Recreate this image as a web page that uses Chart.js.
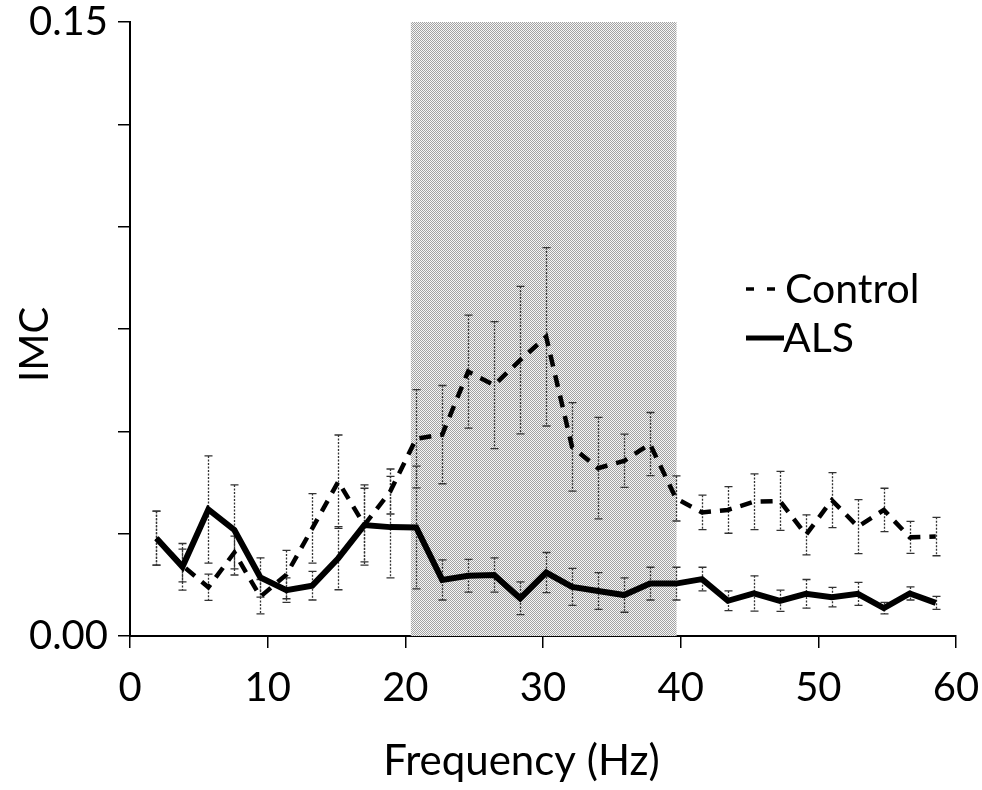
<!DOCTYPE html>
<html><head><meta charset="utf-8">
<script src="https://cdn.jsdelivr.net/npm/chart.js@4"></script>
<style>html,body{margin:0;padding:0;background:#fff}#wrap{width:982px;height:790px}</style>
</head><body><div id="wrap"><canvas id="c" width="982" height="790"></canvas></div>
<script>
const freqs = [1.92, 3.81, 5.69, 7.58, 9.47, 11.36, 13.24, 15.13, 17.02, 18.9, 20.79, 22.68, 24.56, 26.45, 28.34, 30.23, 32.11, 34.0, 35.89, 37.77, 39.66, 41.55, 43.43, 45.32, 47.21, 49.1, 50.98, 52.87, 54.76, 56.64, 58.53];
const controlIMC = [0.0239, 0.0172, 0.0119, 0.0204, 0.0096, 0.0150, 0.0263, 0.0377, 0.0271, 0.0353, 0.0482, 0.0492, 0.0646, 0.0613, 0.0674, 0.0731, 0.0462, 0.0410, 0.0428, 0.0469, 0.0336, 0.0302, 0.0308, 0.0328, 0.0330, 0.0247, 0.0332, 0.0267, 0.0308, 0.0241, 0.0243];
const controlErr = [0.0066, 0.0040, 0.0032, 0.0040, 0.0042, 0.0059, 0.0085, 0.0114, 0.0098, 0.0055, 0.0120, 0.0120, 0.0138, 0.0155, 0.0180, 0.0218, 0.0108, 0.0124, 0.0065, 0.0077, 0.0055, 0.0042, 0.0057, 0.0068, 0.0072, 0.0049, 0.0067, 0.0066, 0.0053, 0.0039, 0.0047];
const alsIMC = [0.0239, 0.0169, 0.0309, 0.0259, 0.0143, 0.0112, 0.0123, 0.0190, 0.0271, 0.0266, 0.0265, 0.0137, 0.0147, 0.0149, 0.0092, 0.0155, 0.0120, 0.0110, 0.0100, 0.0128, 0.0128, 0.0139, 0.0086, 0.0104, 0.0086, 0.0103, 0.0095, 0.0103, 0.0068, 0.0104, 0.0081];
const alsErr = [0.0066, 0.0057, 0.0131, 0.0110, 0.0048, 0.0030, 0.0035, 0.0077, 0.0090, 0.0124, 0.0150, 0.0049, 0.0040, 0.0042, 0.0040, 0.0049, 0.0045, 0.0045, 0.0042, 0.0040, 0.0040, 0.0029, 0.0024, 0.0043, 0.0026, 0.0035, 0.0024, 0.0028, 0.0014, 0.0016, 0.0016];
const xTicks = [0, 10, 20, 30, 40, 50, 60];
const yLabelled = [0, 0.15];
const yTickText = ['0.00', '0.15'];
const shadeBand = [20.4, 39.7];
const seriesNames = ['Control', 'ALS'];

const FONT = 'Lato';

function makePattern(ctx) {
  const p = document.createElement('canvas');
  p.width = 2; p.height = 2;
  const g = p.getContext('2d');
  g.fillStyle = '#f6f6f6'; g.fillRect(0, 0, 2, 2);
  g.fillStyle = '#a2a2a2'; g.fillRect(0, 0, 1, 1); g.fillRect(1, 1, 1, 1);
  return ctx.createPattern(p, 'repeat');
}

const shadePlugin = {
  id: 'shade',
  beforeDatasetsDraw(chart) {
    const {ctx, chartArea, scales: {x}} = chart;
    const x0 = x.getPixelForValue(shadeBand[0]);
    const x1 = x.getPixelForValue(shadeBand[1]);
    ctx.save();
    ctx.fillStyle = makePattern(ctx);
    ctx.fillRect(x0, chartArea.top, x1 - x0, chartArea.bottom - chartArea.top);
    ctx.restore();
  }
};

const errorPlugin = {
  id: 'errbars',
  beforeDatasetsDraw(chart) {
    const {ctx, scales: {x, y}} = chart;
    ctx.save();
    ctx.strokeStyle = '#333';
    ctx.lineWidth = 1.3;
    chart.data.datasets.forEach(ds => {
      const errs = ds.errors;
      ds.data.forEach((pt, i) => {
        const px = Math.round(x.getPixelForValue(pt.x)) + 0.5;
        const yt = y.getPixelForValue(pt.y + errs[i]);
        const yb = y.getPixelForValue(pt.y - errs[i]);
        ctx.setLineDash([2, 1.5]);
        ctx.beginPath(); ctx.moveTo(px, yt); ctx.lineTo(px, yb); ctx.stroke();
        ctx.setLineDash([]);
        ctx.beginPath();
        ctx.moveTo(px - 4, yt); ctx.lineTo(px + 4, yt);
        ctx.moveTo(px - 4, yb); ctx.lineTo(px + 4, yb);
        ctx.stroke();
      });
    });
    ctx.restore();
  }
};

const legendPlugin = {
  id: 'customLegend',
  afterDraw(chart) {
    const {ctx} = chart;
    ctx.save();
    ctx.fillStyle = '#000';
    ctx.strokeStyle = '#000';
    ctx.font = '41px ' + FONT;
    ctx.textBaseline = 'alphabetic';
    ctx.textAlign = 'left';
    ctx.lineWidth = 3.5;
    ctx.beginPath();
    ctx.moveTo(746, 289); ctx.lineTo(754, 289);
    ctx.moveTo(767, 289); ctx.lineTo(775, 289);
    ctx.stroke();
    ctx.fillText(seriesNames[0], 785, 303);
    ctx.lineWidth = 5;
    ctx.beginPath();
    ctx.moveTo(746, 338); ctx.lineTo(784, 338);
    ctx.stroke();
    ctx.fillText(seriesNames[1], 783, 352);
    ctx.restore();
  }
};

const ctx = document.getElementById('c').getContext('2d');
new Chart(ctx, {
  type: 'line',
  data: {
    datasets: [
      {
        label: seriesNames[0],
        data: freqs.map((f, i) => ({x: f, y: controlIMC[i]})),
        errors: controlErr,
        borderColor: '#000',
        borderWidth: 4.5,
        borderDash: [12, 9],
        pointRadius: 0,
        tension: 0,
        fill: false
      },
      {
        label: seriesNames[1],
        data: freqs.map((f, i) => ({x: f, y: alsIMC[i]})),
        errors: alsErr,
        borderColor: '#000',
        borderWidth: 6,
        pointRadius: 0,
        tension: 0,
        fill: false
      }
    ]
  },
  options: {
    responsive: false,
    animation: false,
    devicePixelRatio: 1,
    layout: {padding: {top: 22, right: 26, left: 0, bottom: 0}},
    plugins: {legend: {display: false}, tooltip: {enabled: false}},
    scales: {
      x: {
        type: 'linear',
        min: 0, max: 60,
        afterBuildTicks(scale) { scale.ticks = xTicks.map(v => ({value: v})); },
        afterFit(scale) { scale.height = 154; scale.paddingLeft = 0; scale.paddingRight = 0; },
        ticks: {color: '#000', font: {family: FONT, size: 40}, padding: 16, maxRotation: 0,
                callback: v => String(v)},
        grid: {drawOnChartArea: false, drawTicks: true, tickLength: 12, color: '#000', lineWidth: 1.5},
        border: {display: true, color: '#000', width: 2},
        title: {display: true, text: 'Frequency (Hz)\u00a0\u00a0\u00a0\u00a0', color: '#000', font: {family: FONT, size: 42},
                padding: {top: 0, bottom: 3}}
      },
      y: {
        type: 'linear',
        min: 0, max: 0.15,
        ticks: {stepSize: 0.025, color: '#000', font: {family: FONT, size: 40}, padding: 10,
                callback: v => {
                  const k = yLabelled.findIndex(t => Math.abs(t - v) < 1e-9);
                  return k >= 0 ? yTickText[k] : '';
                }},
        afterFit(scale) { scale.width = 130; scale.paddingTop = 0; scale.paddingBottom = 0; },
        grid: {drawOnChartArea: false, drawTicks: true, tickLength: 12, color: '#000', lineWidth: 1.5},
        border: {display: true, color: '#000', width: 2},
        title: {display: true, text: 'IMC\u00a0\u00a0\u00a0', color: '#000', font: {family: FONT, size: 40},
                padding: {top: 11, bottom: 0}}
      }
    }
  },
  plugins: [shadePlugin, errorPlugin, legendPlugin]
});
</script>
</body></html>
